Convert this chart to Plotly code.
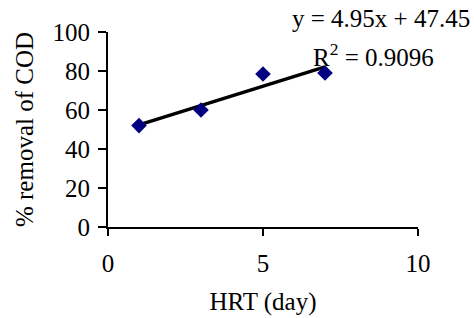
import plotly.graph_objects as go

hrt = [1, 3, 5, 7]
cod_removal = [52, 60, 78.5, 79]
slope, intercept = 4.95, 47.45
eq_text = "y = 4.95x + 47.45"
r2_text = "R<sup>2</sup> = 0.9096"
x_ticks = [0, 5, 10]
y_ticks = [0, 20, 40, 60, 80, 100]

trend_x = [min(hrt), max(hrt)]
trend_y = [slope * v + intercept for v in trend_x]

FONT = "Liberation Serif"
tfont = dict(family=FONT, size=25, color="black")

fig = go.Figure()
fig.add_trace(go.Scatter(x=trend_x, y=trend_y, mode="lines",
                         line=dict(color="black", width=3.5), showlegend=False))
fig.add_trace(go.Scatter(x=hrt, y=cod_removal, mode="markers",
                         marker=dict(symbol="diamond", size=12, color="#000080"),
                         showlegend=False))

fig.update_layout(
    width=474, height=318,
    margin=dict(l=108, r=56, t=32, b=91, autoexpand=False),
    paper_bgcolor="white", plot_bgcolor="white",
    font=tfont,
    xaxis=dict(range=[0, 10], tickvals=x_ticks, showgrid=False, zeroline=False,
               showline=True, linecolor="black", linewidth=2, automargin=False,
               ticks="outside", ticklen=7, tickwidth=2, tickcolor="black",
               ticklabelstandoff=6, tickfont=tfont,
               title=dict(text="HRT (day)", standoff=16, font=tfont)),
    yaxis=dict(range=[0, 100], tickvals=y_ticks, showgrid=False, zeroline=False,
               showline=True, linecolor="black", linewidth=2, automargin=False,
               ticks="outside", ticklen=8, tickwidth=2, tickcolor="black",
               ticklabelstandoff=3, tickfont=tfont,
               title=dict(text="% removal of COD", standoff=12, font=tfont)),
    annotations=[
        dict(text=eq_text, xref="paper", yref="paper", x=(472 - 108) / 310, y=(227 - 18) / 195,
             xanchor="right", yanchor="middle", showarrow=False, font=tfont),
        dict(text=r2_text, xref="paper", yref="paper", x=(311 - 108) / 310, y=(227 - 55) / 195,
             xanchor="left", yanchor="middle", showarrow=False, font=tfont),
    ],
)

fig.write_html("out.html", config={"displayModeBar": False},
               post_script="document.body.style.margin='0';document.body.style.padding='0';document.body.style.overflow='hidden';")
